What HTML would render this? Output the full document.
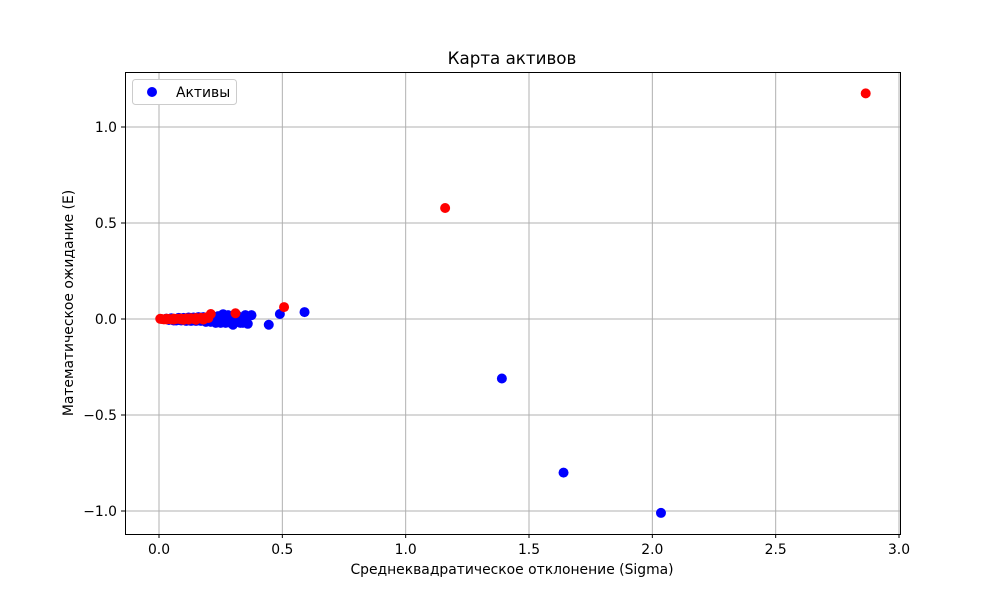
<!DOCTYPE html>
<html><head><meta charset="utf-8"><style>
body{margin:0;background:#fff;font-family:"Liberation Sans","DejaVu Sans",sans-serif}
svg text{font-family:"DejaVu Sans","Liberation Sans",sans-serif;font-size:13.9px;fill:#000}
</style></head><body>
<svg id="chart" width="1000" height="600" xmlns="http://www.w3.org/2000/svg">
<rect width="1000" height="600" fill="#fff"/>
<g id="grid"></g>
<g id="ticks"></g>
<g id="pts"></g>
<rect x="125.5" y="72.5" width="775" height="462" fill="none" stroke="#000" stroke-width="1"/>
<text x="512" y="64" text-anchor="middle" style="font-size:16.7px">Карта активов</text>
<text x="512" y="574" text-anchor="middle">Среднеквадратическое отклонение (Sigma)</text>
<text transform="translate(73,303) rotate(-90)" text-anchor="middle">Математическое ожидание (E)</text>
<g>
<rect x="132.5" y="79.5" width="104" height="25" rx="3" fill="#fff" stroke="#ccc"/>
<circle cx="152" cy="92" r="5" fill="#0000ff"/>
<text x="176" y="97">Активы</text>
</g>
</svg>
<script>
const xTicks=[0,0.5,1,1.5,2,2.5,3];
const xTickLabels=["0.0","0.5","1.0","1.5","2.0","2.5","3.0"];
const yTicks=[-1,-0.5,0,0.5,1];
const yTickLabels=["−1.0","−0.5","0.0","0.5","1.0"];
const blueSigma=[0.59,0.49,0.445,1.39,1.64,2.035,0.375,0.36,0.35,0.34,0.33,0.32,0.30,0.29,0.28,0.27,0.26,0.25,0.24,0.23,0.22,0.21,0.20,0.19,0.18,0.17,0.16,0.15,0.14,0.13,0.12,0.11,0.10,0.09,0.08,0.07,0.06,0.05,0.04,0.03,0.35,0.31,0.27,0.24,0.2,0.16,0.12,0.08,0.26,0.30,0.34];
const blueE=[0.036,0.026,-0.03,-0.31,-0.80,-1.01,0.02,-0.025,0.02,-0.02,-0.02,0.015,-0.03,-0.02,0.02,-0.02,0.025,-0.02,0.015,-0.02,0.01,-0.015,0.01,-0.015,0.01,-0.01,0.01,-0.01,0.008,-0.01,0.008,-0.01,0.006,-0.008,0.006,-0.008,-0.008,0.004,-0.005,0.002,0.0,0.0,0.0,0.0,0.0,0.0,0.0,0.0,-0.01,0.01,0.005];
const redSigma=[2.865,1.16,0.507,0.31,0.21,0.20,0.19,0.18,0.17,0.16,0.15,0.14,0.13,0.12,0.11,0.10,0.09,0.08,0.07,0.06,0.05,0.04,0.03,0.02,0.01,0.005,0.15,0.12,0.09,0.06,0.03,0.18,0.1];
const redE=[1.175,0.578,0.062,0.03,0.026,0.005,0.008,0.003,0.006,0.002,0.005,0.0,0.004,0.002,0.003,0.0,0.002,0.001,0.0,0.002,-0.002,0.0,0.001,-0.002,0.0,0.001,-0.004,-0.003,-0.002,-0.003,-0.002,-0.003,-0.004];
const X0=159,XS=246.67,Y0=319,YS=192;
const sx=v=>X0+v*XS, sy=v=>Y0-v*YS;
const NS="http://www.w3.org/2000/svg";
const g=document.getElementById('grid'),t=document.getElementById('ticks'),p=document.getElementById('pts');
function mk(tag,at,parent){const e=document.createElementNS(NS,tag);for(const k in at)e.setAttribute(k,at[k]);parent.appendChild(e);return e;}
xTicks.forEach((v,i)=>{const x=sx(v);
 const l=mk('line',{x1:x,x2:x,y1:72,y2:534,stroke:'#b0b0b0','stroke-width':1},g);
 
 
 mk('line',{x1:x,x2:x,y1:534,y2:538,stroke:'#000'},t);
 const tx=mk('text',{x:x,y:554,'text-anchor':'middle'},t);tx.textContent=xTickLabels[i];
 
 });
yTicks.forEach((v,i)=>{const y=sy(v);
 const l=mk('line',{x1:125,x2:900,y1:y,y2:y,stroke:'#b0b0b0','stroke-width':1},g);
 
 
 mk('line',{x1:121,x2:125,y1:y,y2:y,stroke:'#000'},t);
 const tx=mk('text',{x:117,y:y+5,'text-anchor':'end'},t);tx.textContent=yTickLabels[i];
 
 });
blueSigma.forEach((v,i)=>{const c=mk('circle',{cx:sx(v),cy:sy(blueE[i]),r:5,fill:'#0000ff'},p);
 
 });
redSigma.forEach((v,i)=>{const c=mk('circle',{cx:sx(v),cy:sy(redE[i]),r:5,fill:'#ff0000'},p);
 
 });
</script>
</body></html>
